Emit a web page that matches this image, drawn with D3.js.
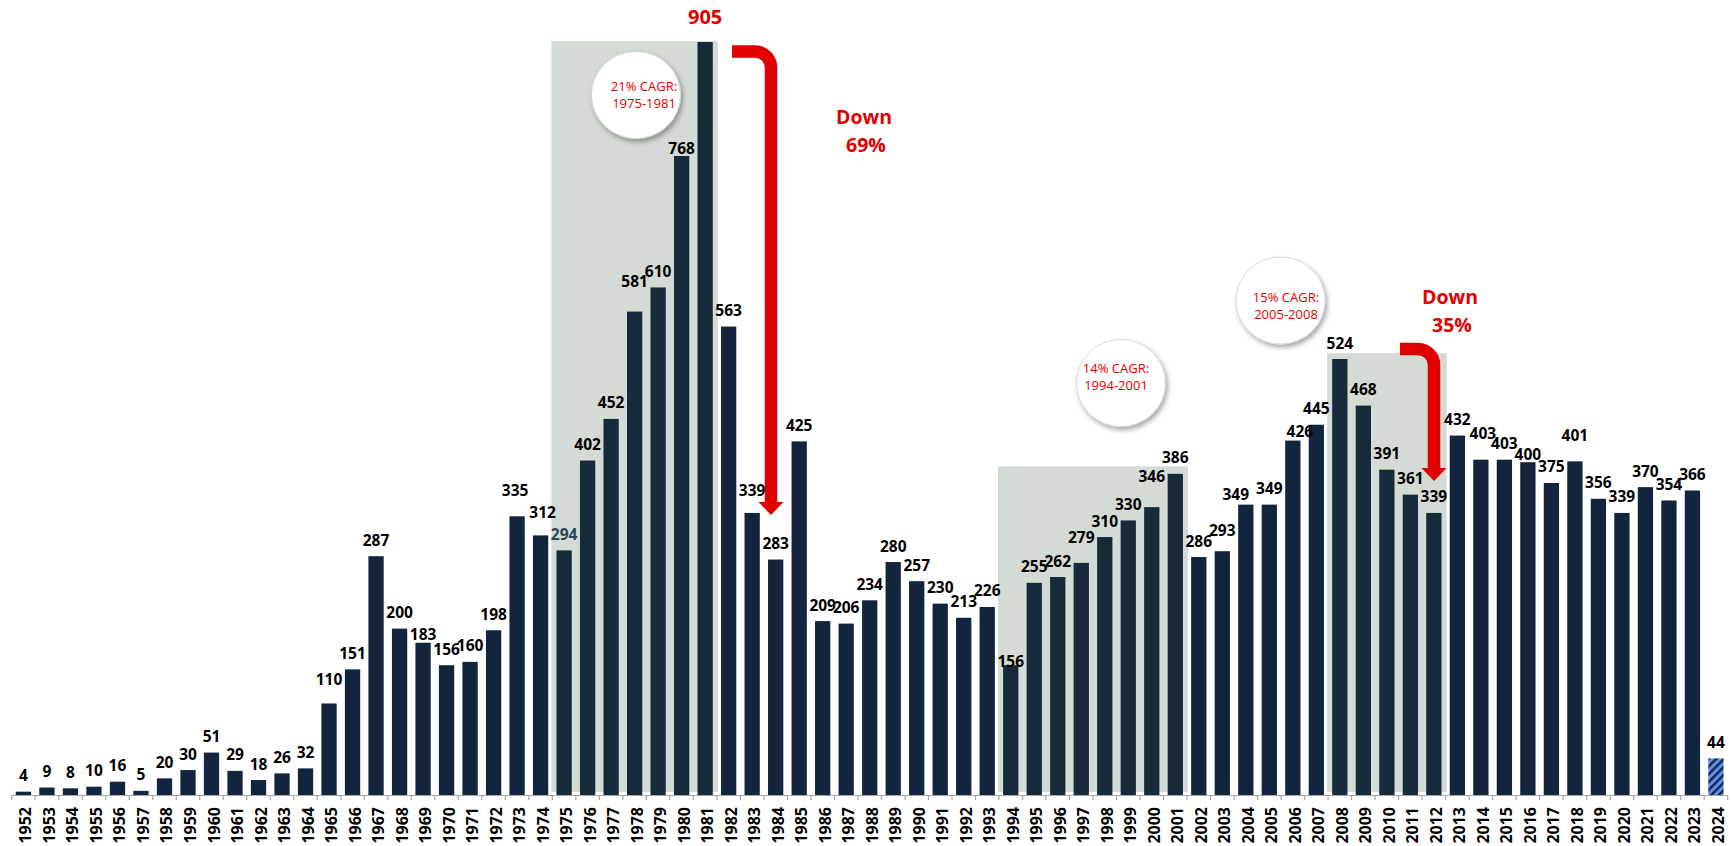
<!DOCTYPE html>
<html>
<head>
<meta charset="utf-8">
<script src="https://cdn.jsdelivr.net/npm/d3@7"></script>
<style>
  body { margin: 0; background: #fff; }
  svg { display: block; font-family: "Open Sans", "Liberation Sans", sans-serif; }
</style>
</head>
<body>
<div id="chart"></div>
<script>
// yearly values, 1952 - 2024 (2024 is year-to-date)
const years = d3.range(1952, 2025).map(String);
const values = [
  4, 9, 8, 10, 16, 5, 20, 30, 51, 29, 18, 26, 32,
  110, 151, 287, 200, 183, 156, 160, 198, 335, 312,
  294, 402, 452, 581, 610, 768, 905,
  563, 339, 283, 425, 209, 206, 234, 280, 257, 230, 213, 226,
  156, 255, 262, 279, 310, 330, 346, 386,
  286, 293, 349, 349, 426, 445,
  524, 468, 391, 361, 339,
  432, 403, 403, 400, 375, 401, 356, 339, 370, 354, 366,
  44
];
const partialYear = "2024";
const peakYear = "1981";

// shaded growth periods: [from, to, ceiling value]
const periodFrom = ["1975", "1994", "2008"];
const periodTo = ["1981", "2001", "2012"];
const periodTop = [906, 395, 531];

// CAGR bubbles
const cagrText = [["21% CAGR:", "1975-1981"], ["14% CAGR:", "1994-2001"], ["15% CAGR:", "2005-2008"]];

// drops
const dropText = [["Down", "69%"], ["Down", "35%"]];

// manual nudges of data labels (dx, dy) like in the original sheet
const labelNudge = {
  1965: [0, -8], 1969: [0, 8], 1973: [-2, -10], 1974: [2, -7], 1978: [0, -14],
  1980: [0, 9], 1983: [0, -6], 1994: [0, 12], 1997: [0, -9], 2000: [0, -15], 2003: [0, -5],
  2004: [-10, 6], 2006: [7, 7], 2014: [2, -10], 2016: [0, 8], 2018: [0, -10]
};

const width = 1731;
const height = 846;
const baseY = 795;

const svg = d3.select("#chart").append("svg")
  .attr("width", width)
  .attr("height", height);

const defs = svg.append("defs");
const shadow = defs.append("filter").attr("id", "shadow")
  .attr("x", "-30%").attr("y", "-30%").attr("width", "160%").attr("height", "160%");
shadow.append("feDropShadow")
  .attr("dx", 2).attr("dy", 3).attr("stdDeviation", 2.5)
  .attr("flood-color", "#000").attr("flood-opacity", 0.35);

const hatch = defs.append("pattern").attr("id", "hatch")
  .attr("patternUnits", "userSpaceOnUse")
  .attr("width", 5.5).attr("height", 5.5)
  .attr("patternTransform", "rotate(45)");
hatch.append("rect").attr("width", 5.5).attr("height", 5.5).attr("fill", "#5b8ff2");
hatch.append("rect").attr("width", 2.4).attr("height", 5.5).attr("fill", "#13253f");

const x = d3.scaleBand()
  .domain(years)
  .range([11.7, 1727.7])
  .paddingInner(0.35)
  .paddingOuter(0.175);

const y = d3.scaleLinear()
  .domain([0, 905])
  .range([baseY, 42]);

const step = x.step();
const bandStart = (yr) => x(yr) - step * x.paddingInner() / 2;
const bandEnd = (yr) => bandStart(yr) + step;

// shaded periods
const periods = periodFrom.map((f, i) => ({ from: f, to: periodTo[i], top: periodTop[i] }));
svg.append("g")
  .selectAll("rect")
  .data(periods)
  .enter()
  .append("rect")
  .attr("x", (d) => bandStart(d.from) - 1)
  .attr("width", (d) => bandEnd(d.to) - bandStart(d.from) + 2)
  .attr("y", (d) => y(d.top))
  .attr("height", (d) => baseY - 3 - y(d.top))
  .attr("fill", "#d3dbd4");

const inPeriod = (yr) => periods.some((p) => +yr >= +p.from && +yr <= +p.to);

const data = years.map((yr, i) => ({ year: yr, value: values[i] }));

// bars
svg.append("g")
  .selectAll("rect")
  .data(data)
  .enter()
  .append("rect")
  .attr("x", (d) => x(d.year))
  .attr("width", x.bandwidth())
  .attr("y", (d) => y(d.value))
  .attr("height", (d) => baseY - y(d.value))
  .attr("fill", (d) => d.year === partialYear ? "url(#hatch)" : inPeriod(d.year) ? "#172a3a" : "#13243f");

// axis
const axis = svg.append("g").attr("transform", `translate(0,${baseY})`);
axis.append("line")
  .attr("x1", bandStart(years[0])).attr("x2", bandEnd(years[years.length - 1]))
  .attr("y1", 0.5).attr("y2", 0.5)
  .attr("stroke", "#a6a6a6").attr("stroke-width", 1.2);
axis.selectAll(".tk")
  .data(years.concat(["end"]))
  .enter()
  .append("line")
  .attr("x1", (d, i) => bandStart(years[0]) + i * step)
  .attr("x2", (d, i) => bandStart(years[0]) + i * step)
  .attr("y1", 0).attr("y2", 5)
  .attr("stroke", "#a6a6a6").attr("stroke-width", 1.2);

const xAxis = axis.append("g").call(d3.axisBottom(x).tickSize(0).tickPadding(0));
xAxis.select(".domain").remove();
xAxis.selectAll("text")
  .attr("transform", "rotate(-90)")
  .attr("text-anchor", "end")
  .attr("x", -12)
  .attr("y", 2.4)
  .attr("dy", "0.35em")
  .style("font-family", "'Open Sans', sans-serif")
  .style("font-size", "16px")
  .style("font-weight", 700)
  .attr("fill", "#000");

// data labels
svg.append("g")
  .selectAll("text")
  .data(data)
  .enter()
  .append("text")
  .attr("x", (d) => x(d.year) + x.bandwidth() / 2 + (labelNudge[d.year] ? labelNudge[d.year][0] : 0))
  .attr("y", (d) => y(d.value) - 10.5 + (labelNudge[d.year] ? labelNudge[d.year][1] : 0) - (d.year === peakYear ? 8 : 0))
  .attr("text-anchor", "middle")
  .style("font-size", (d) => d.year === peakYear ? "20px" : "15.5px")
  .style("font-weight", 700)
  .attr("fill", (d) => d.year === peakYear ? "#e00000" : d.year === "1975" ? "#2d4658" : "#000")
  .text((d) => d.value);

// red drop arrows
const red = "#e00000";
const arrows = [
  { x0: 732, y0: 51.5, xv: 771, y1: 502, r: 16 },
  { x0: 1400, y0: 349, xv: 1434, y1: 468, r: 16 }
];
const arrowG = svg.append("g");
arrows.forEach((a) => {
  const p = d3.path();
  p.moveTo(a.x0, a.y0);
  p.lineTo(a.xv - a.r, a.y0);
  p.arcTo(a.xv, a.y0, a.xv, a.y0 + a.r, a.r);
  p.lineTo(a.xv, a.y1 + 1);
  arrowG.append("path")
    .attr("d", p.toString())
    .attr("fill", "none")
    .attr("stroke", red)
    .attr("stroke-width", 12.5);
  arrowG.append("path")
    .attr("d", `M${a.xv - 12.5},${a.y1} L${a.xv + 12.5},${a.y1} L${a.xv},${a.y1 + 13} Z`)
    .attr("fill", red);
});

// drop labels
const dropPos = [[864, 124, 866, 151.7], [1450, 304, 1452, 331.7]];
dropText.forEach((t, i) => {
  const pos = dropPos[i];
  svg.append("text").attr("x", pos[0]).attr("y", pos[1])
    .attr("text-anchor", "middle").attr("fill", red)
    .style("font-size", "19.5px").style("font-weight", 700).text(t[0]);
  svg.append("text").attr("x", pos[2]).attr("y", pos[3])
    .attr("text-anchor", "middle").attr("fill", red)
    .style("font-size", "19.5px").style("font-weight", 700).text(t[1]);
});

// CAGR bubbles
const bubblePos = [
  { cx: 636, cy: 95, tx: 644, ty: 95 },
  { cx: 1121, cy: 383, tx: 1116, ty: 377 },
  { cx: 1280.5, cy: 300.5, tx: 1286, ty: 306 }
];
bubblePos.forEach((b, i) => {
  svg.append("ellipse")
    .attr("cx", b.cx).attr("cy", b.cy)
    .attr("rx", 44.5).attr("ry", 43.5)
    .attr("fill", "#fff")
    .attr("stroke", "#d9d9d9")
    .attr("stroke-width", 1)
    .attr("filter", "url(#shadow)");
  svg.append("text")
    .attr("x", b.tx).attr("y", b.ty - 4)
    .attr("text-anchor", "middle").attr("fill", red)
    .style("font-size", "13px").text(cagrText[i][0]);
  svg.append("text")
    .attr("x", b.tx).attr("y", b.ty + 13)
    .attr("text-anchor", "middle").attr("fill", red)
    .style("font-size", "13px").text(cagrText[i][1]);
});
</script>
</body>
</html>
